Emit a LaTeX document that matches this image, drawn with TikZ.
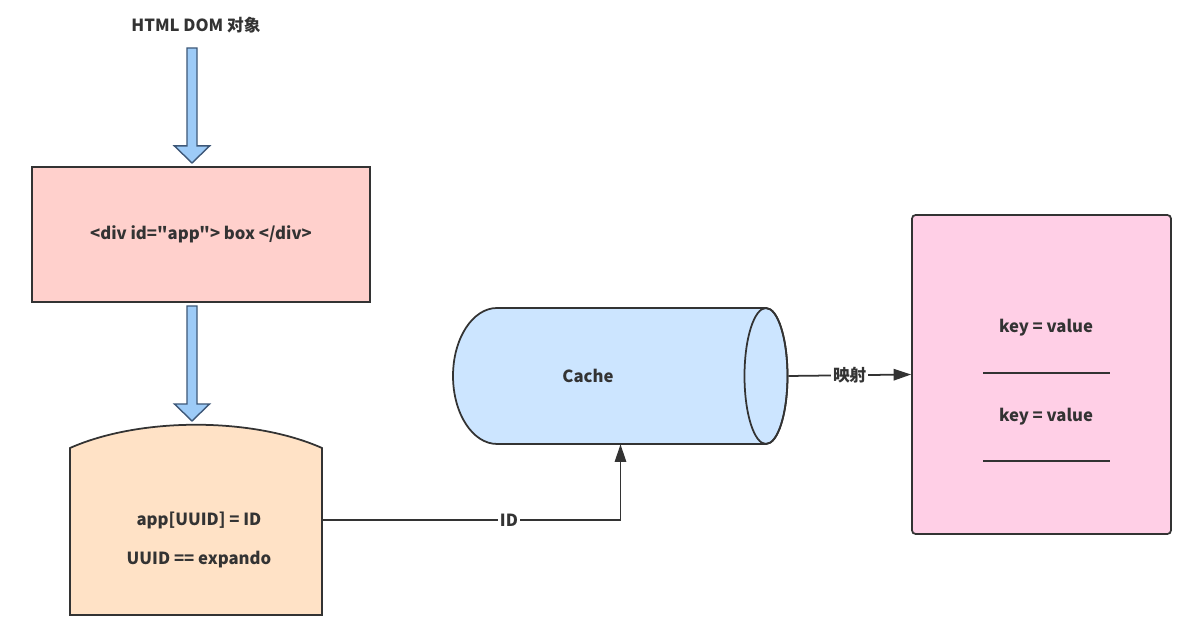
\documentclass[tikz,border=0pt]{standalone}
\usepackage{fontspec}
\setmainfont{Noto Sans CJK SC}[Ligatures=TeXOff]
\usetikzlibrary{arrows.meta,calc}
\definecolor{arrowfill}{HTML}{9DCBF7}
\definecolor{arrowline}{HTML}{3E5878}
\definecolor{divfill}{HTML}{FFD0CC}
\definecolor{storefill}{HTML}{FFE2C6}
\definecolor{cachefill}{HTML}{CCE5FF}
\definecolor{mapfill}{HTML}{FFCFE6}
\definecolor{edge}{HTML}{333333}
\tikzset{
  txt/.style={font=\fontsize{9.5}{11}\selectfont\bfseries, text=edge},
  box/.style={draw=edge, line width=1pt, txt},
  fatarrow/.style={draw=arrowline, fill=arrowfill, line width=0.8pt, line join=miter,
    to path={let \p1=(\tikztostart), \p2=(\tikztotarget) in
      (\x1-2.85pt,\y1) -- (\x1+2.85pt,\y1) -- (\x1+2.85pt,\y2+9.7pt) -- (\x1+10pt,\y2+9.7pt)
      -- (\x2,\y2) -- (\x1-10pt,\y2+9.7pt) -- (\x1-2.85pt,\y2+9.7pt) -- cycle}},
  conn/.style={draw=edge, line width=1pt, -{Triangle[length=10pt,width=6.5pt]}},
  lbl/.style={fill=white, inner sep=1pt, txt}
}
\begin{document}
\begin{tikzpicture}[x=0.02cm,y=-0.02cm]
  \useasboundingbox (0,0) rectangle (1188,624);
  \node[txt] (title) at (196,25) {HTML DOM 对象};
  \node[box, fill=divfill, minimum width=6.76cm, minimum height=2.7cm] (divbox) at (201,234.5) {<div id="app"> box </div>};
  \coordinate (domtop) at (192,48);
  \coordinate (domtip) at (192,163);
  \coordinate (divtop) at (192,306);
  \coordinate (divtip) at (192,421);
  \draw[fatarrow] (domtop) to (domtip);
  \draw[fatarrow] (divtop) to (divtip);
  \draw[draw=edge, fill=storefill, line width=1pt] (70,615) -- (70,448) .. controls (140,417) and (252,417) .. (322,448) -- (322,615) -- cycle;
  \node[minimum width=5.04cm, minimum height=3.8cm] (store) at (196,520) {};
  \node[txt, align=center] (storetext) at (199,540) {app[UUID] = ID\\[11pt]UUID == expando};
  \node[minimum width=6.7cm, minimum height=2.72cm] (cache) at (620.5,376) {};
  \draw[draw=edge, fill=cachefill, line width=1pt] (766,308) -- (497,308)
    arc[start angle=90, end angle=270, x radius=0.88cm, y radius=1.36cm] -- (766,444)
    arc[start angle=-90, end angle=90, x radius=0.43cm, y radius=1.36cm] -- cycle;
  \draw[draw=edge, line width=1pt] (766,376) ellipse[x radius=0.43cm, y radius=1.36cm];
  \node[txt] (cachetext) at (588,376) {Cache};
  \node[box, fill=mapfill, rounded corners=2pt, minimum width=5.18cm, minimum height=6.38cm] (mapbox) at (1041.5,374.5) {};
  \node[txt] (kv1) at (1046,328) {key = value};
  \node[txt] (kv2) at (1046,417) {key = value};
  \draw[edge, line width=1pt] (983,373) -- (1110,373);
  \draw[edge, line width=1pt] (983,461) -- (1110,461);
  \draw[conn] (store.east) -| (cache.south) node[lbl, pos=0.313] {ID};
  \draw[conn] (cache.east) -- (mapbox.west) node[lbl, midway] {映射};
\end{tikzpicture}
\end{document}
